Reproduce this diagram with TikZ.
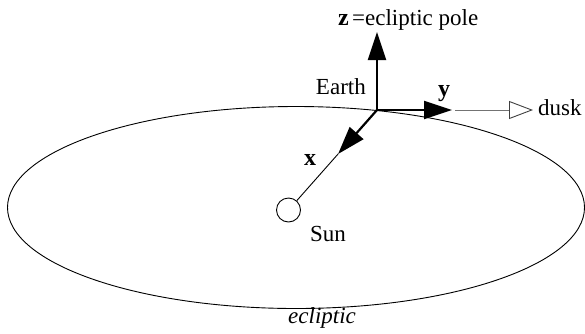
\documentclass[tikz,border=0pt]{standalone}
\usepackage{fontspec}
\setmainfont{Liberation Serif}
\usetikzlibrary{arrows.meta,calc}
\begin{document}
\begin{tikzpicture}[x=1pt,y=-1pt,
  axis/.style={line width=2.2pt,-{Triangle[length=28pt,width=18pt]}},
  thinline/.style={line width=0.9pt},
  lbl/.style={font=\fontsize{23}{27}\selectfont, inner sep=0pt},
  bold/.style={font=\fontsize{24}{28}\selectfont\bfseries, inner sep=0pt},
  duskline/.style={line width=0.9pt, draw=black!55, -{Triangle[open,length=24pt,width=18pt,color=black!75]}},
  sunbody/.style={circle, draw, line width=0.9pt, minimum size=24pt, inner sep=0pt}
  ]
\useasboundingbox (0,0) rectangle (585,333);
% ecliptic
\draw[thinline] (296,207.5) ellipse [x radius=288.5pt, y radius=101pt];
% Sun
\node[sunbody] (sun) at (288.5,210) {};
\node[lbl, anchor=base west] (sunlbl) at (310,241) {Sun};
% Earth and axes
\coordinate (O) at (377,110);
\coordinate (ztip) at (377,32);
\coordinate (ytip) at (452,110);
\coordinate (xtip) at ($(O)!0.44!(sun)$);
\draw[thinline] (xtip) -- (sun);
\draw[axis] (O) -- (ztip);
\draw[axis] (O) -- (ytip);
\draw[axis] (O) -- (xtip);
\node[lbl, anchor=base east] (earth) at (366,94.5) {Earth};
\node[bold, anchor=base] (zlbl) at (343.5,25) {z};
\node[lbl, anchor=base west] (pole) at (352,25) {=ecliptic pole};
\node[bold, anchor=base] (ylbl) at (444,96) {y};
\node[bold, anchor=base] (xlbl) at (310,165) {x};
% dusk
\coordinate (dstart) at (455,110);
\node[lbl, anchor=base west] (dusk) at (538,115) {dusk};
\draw[duskline] (dstart) -- ([xshift=-5pt]dusk.west |- dstart);
% ecliptic label
\node[lbl, anchor=base west, font=\fontsize{23}{27}\selectfont\itshape] (ecl) at (288,323) {ecliptic};
\end{tikzpicture}
\end{document}
